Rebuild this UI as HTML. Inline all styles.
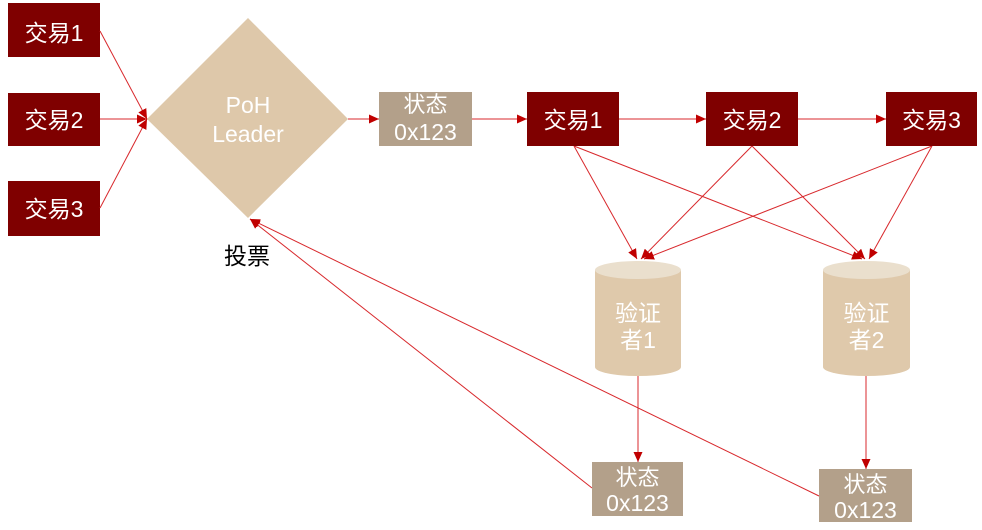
<!DOCTYPE html>
<html>
<head>
<meta charset="utf-8">
<style>
  html, body { margin: 0; padding: 0; background: #ffffff; }
  body { width: 982px; height: 530px; overflow: hidden; }
  svg { display: block; }
  text { font-family: "Liberation Sans", "Noto Sans CJK SC", sans-serif; }
</style>
</head>
<body>
<svg width="982" height="530" viewBox="0 0 982 530" xmlns="http://www.w3.org/2000/svg">
  <defs>
    <marker id="ah" markerUnits="userSpaceOnUse" markerWidth="10" markerHeight="9" refX="10" refY="4.5" orient="auto">
      <path d="M0,0 L10,4.5 L0,9 z" fill="#c00000"/>
    </marker>
  </defs>

  <!-- Left transaction boxes -->
  <rect x="8" y="3" width="92" height="54" fill="#7f0000"/>
  <text x="54" y="41" font-size="23" fill="#ffffff" text-anchor="middle">交易1</text>
  <rect x="8" y="93" width="92" height="53" fill="#7f0000"/>
  <text x="54" y="128" font-size="23" fill="#ffffff" text-anchor="middle">交易2</text>
  <rect x="8" y="181" width="92" height="55" fill="#7f0000"/>
  <text x="54" y="217" font-size="23" fill="#ffffff" text-anchor="middle">交易3</text>

  <!-- Diamond -->
  <polygon points="248,18 348,119 248,218 147,119" fill="#dec8aa"/>
  <text x="248" y="113" font-size="23" fill="#ffffff" text-anchor="middle">PoH</text>
  <text x="248" y="142" font-size="23" fill="#ffffff" text-anchor="middle">Leader</text>

  <!-- 投票 -->
  <text x="247" y="264" font-size="23" fill="#000000" text-anchor="middle">投票</text>

  <!-- Connectors -->
  <g stroke="#d8282c" stroke-width="1" fill="none">
    <line x1="100" y1="31" x2="147" y2="119" marker-end="url(#ah)"/>
    <line x1="100" y1="119" x2="147" y2="119" marker-end="url(#ah)"/>
    <line x1="100" y1="208" x2="147" y2="119" marker-end="url(#ah)"/>

    <line x1="348" y1="119" x2="379" y2="119" marker-end="url(#ah)"/>
    <line x1="472" y1="119" x2="527" y2="119" marker-end="url(#ah)"/>
    <line x1="619" y1="119" x2="706" y2="119" marker-end="url(#ah)"/>
    <line x1="798" y1="119" x2="886" y2="119" marker-end="url(#ah)"/>

    <line x1="574" y1="146" x2="637" y2="259" marker-end="url(#ah)"/>
    <line x1="574" y1="146" x2="862" y2="259" marker-end="url(#ah)"/>
    <line x1="752" y1="146" x2="641" y2="259" marker-end="url(#ah)"/>
    <line x1="752" y1="146" x2="865" y2="259" marker-end="url(#ah)"/>
    <line x1="932" y1="146" x2="644" y2="259" marker-end="url(#ah)"/>
    <line x1="932" y1="146" x2="869" y2="259" marker-end="url(#ah)"/>

    <line x1="638" y1="376" x2="638" y2="462" marker-end="url(#ah)"/>
    <line x1="866" y1="376" x2="866" y2="469" marker-end="url(#ah)"/>

    <line x1="592" y1="488" x2="250" y2="219" marker-end="url(#ah)"/>
    <line x1="819" y1="496" x2="250" y2="219" marker-end="url(#ah)"/>
  </g>

  <!-- State box top -->
  <rect x="379" y="92" width="93" height="54" fill="#b3a08a"/>
  <text x="425.5" y="112" font-size="22" fill="#ffffff" text-anchor="middle">状态</text>
  <text x="425.5" y="140" font-size="23" fill="#ffffff" text-anchor="middle">0x123</text>

  <!-- Top transaction row -->
  <rect x="527" y="92" width="92" height="54" fill="#7f0000"/>
  <text x="573" y="128" font-size="23" fill="#ffffff" text-anchor="middle">交易1</text>
  <rect x="706" y="92" width="92" height="54" fill="#7f0000"/>
  <text x="752" y="128" font-size="23" fill="#ffffff" text-anchor="middle">交易2</text>
  <rect x="886" y="92" width="91" height="54" fill="#7f0000"/>
  <text x="931.5" y="128" font-size="23" fill="#ffffff" text-anchor="middle">交易3</text>

  <!-- Cylinder 1 -->
  <path d="M595,270 L595,367 A43,9 0 0 0 681,367 L681,270 Z" fill="#dfc9ab"/>
  <ellipse cx="638" cy="270" rx="43" ry="9" fill="#eadfcd"/>
  <text x="638" y="321" font-size="23" fill="#ffffff" text-anchor="middle">验证</text>
  <text x="638" y="348" font-size="23" fill="#ffffff" text-anchor="middle">者1</text>

  <!-- Cylinder 2 -->
  <path d="M823,270 L823,367 A43.5,9 0 0 0 910,367 L910,270 Z" fill="#dfc9ab"/>
  <ellipse cx="866.5" cy="270" rx="43.5" ry="9" fill="#eadfcd"/>
  <text x="866.5" y="321" font-size="23" fill="#ffffff" text-anchor="middle">验证</text>
  <text x="866.5" y="348" font-size="23" fill="#ffffff" text-anchor="middle">者2</text>

  <!-- Bottom state boxes -->
  <rect x="592" y="462" width="91" height="54" fill="#b3a08a"/>
  <text x="637.5" y="485" font-size="22" fill="#ffffff" text-anchor="middle">状态</text>
  <text x="637.5" y="511" font-size="23" fill="#ffffff" text-anchor="middle">0x123</text>

  <rect x="819" y="469" width="93" height="53" fill="#b3a08a"/>
  <text x="865.5" y="492" font-size="22" fill="#ffffff" text-anchor="middle">状态</text>
  <text x="865.5" y="518" font-size="23" fill="#ffffff" text-anchor="middle">0x123</text>
</svg>
</body>
</html>
